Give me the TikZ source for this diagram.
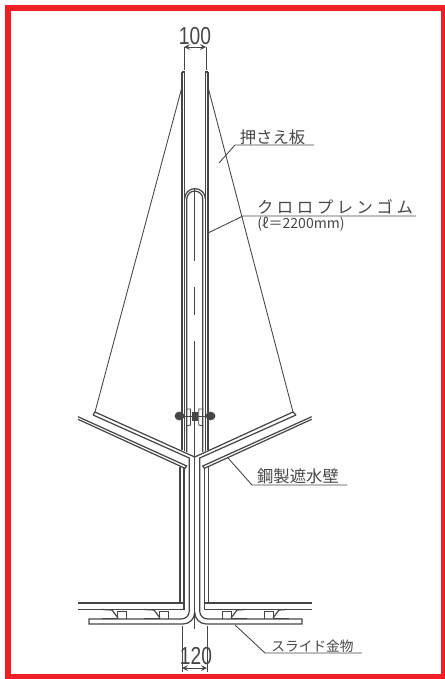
\documentclass[tikz,border=0pt]{standalone}
\usepackage{fontspec}
\usetikzlibrary{arrows}
\newfontfamily\jpfont{Noto Sans CJK JP}
\newfontfamily\jpwide[LetterSpace=22]{Noto Sans CJK JP}
\newfontfamily\numfont{Liberation Sans}
\definecolor{frame_red}{RGB}{238,32,38}
\definecolor{line_gray}{RGB}{70,70,70}
\begin{document}
\begin{tikzpicture}[x=0.02cm,y=-0.02cm,
	plate_line/.style={draw=line_gray,line width=0.7pt},
	thin_line/.style={draw=line_gray,line width=0.5pt},
	dim_text/.style={text=line_gray,inner sep=0pt,font=\numfont\fontsize{14}{14}\selectfont,xscale=0.78},
	label_text/.style={text=line_gray,inner sep=0pt,font=\jpfont\fontsize{9.3}{9.3}\selectfont}]

	\useasboundingbox (0,0) rectangle (445,679);
	\draw[frame_red,line width=0.12cm] (8,8) rectangle (444,677);

	\coordinate (tip_l) at (182,87);
	\coordinate (tip_r) at (208,87);
	\coordinate (base_l) at (95,412);
	\coordinate (base_r) at (293,412);
	\coordinate (end_l) at (93,415);
	\coordinate (end_r) at (296,415);
	\coordinate (crotch) at (194.7,457);

	\draw[plate_line] (182,72) -- (182,450);
	\draw[plate_line] (184.6,72) -- (184.6,451);
	\draw[plate_line] (182,72) -- (184.6,72);
	\draw[plate_line] (205.4,72) -- (205.4,451);
	\draw[plate_line] (208,72) -- (208,450);
	\draw[plate_line] (205.4,72) -- (208,72);

	\draw[thin_line] (tip_l) -- (base_l);
	\draw[thin_line] (tip_r) -- (base_r);

	\draw[plate_line] (184.6,199) arc (180:360:10.4);
	\draw[plate_line] (186.8,452) -- (186.8,199) arc (180:360:8) -- (202.8,452);

	\draw[plate_line] (194.7,188) -- (194.7,261);
	\draw[plate_line] (194.7,287) -- (194.7,315);
	\draw[plate_line] (194.7,341) -- (crotch) -- (194.7,629);

	\draw[plate_line] (end_l) -- (base_l) -- (crotch) -- (base_r) -- (end_r);

	\draw[plate_line] (end_l) -- (189.3,458) -- (189.3,611) .. controls (189.3,615.5) and (185.8,619) .. (181.3,619) -- (89,619) -- (89,624) -- (183,624) .. controls (189.5,624) and (194.7,618.8) .. (194.7,612.3);
	\draw[plate_line] (end_r) -- (199.7,458) -- (199.7,611) .. controls (199.7,615.5) and (203.2,619) .. (207.7,619) -- (302,619) -- (302,624) -- (206.4,624) .. controls (199.9,624) and (194.7,618.8) .. (194.7,612.3);

	\draw[plate_line] (78,416.7) -- (186.7,466) -- (185,468.3) -- (78,419.3);
	\draw[plate_line] (311.7,416.7) -- (202.7,466) -- (204.4,468.3) -- (311.7,419.3);

	\draw[plate_line] (180,466.5) -- (180,603) -- (78,603);
	\draw[plate_line] (184,468) -- (184,609.3) -- (78,609.3);
	\draw[plate_line] (184,603) -- (180,603);
	\draw[plate_line] (204.3,468) -- (204.3,609.3) -- (312,609.3);
	\draw[plate_line] (208.3,466.5) -- (208.3,603) -- (312,603);
	\draw[plate_line] (204.3,603) -- (208.3,603);

	\draw[thin_line] (117,619) -- (117,611) -- (126,611) -- (126,619);
	\draw[plate_line] (102,609.5) -- (112,610) -- (118,618);
	\draw[plate_line,line width=1pt] (102,618.5) -- (118,618.5);
	\draw[thin_line] (159,619) -- (159,611) -- (168,611) -- (168,619);
	\draw[plate_line] (144,609.5) -- (154,610) -- (160,618);
	\draw[plate_line,line width=1pt] (144,618.5) -- (160,618.5);
	\draw[thin_line] (222,619) -- (222,611) -- (231,611) -- (231,619);
	\draw[plate_line] (245,609.5) -- (237,610) -- (231,618);
	\draw[plate_line,line width=1pt] (247,618.5) -- (231,618.5);
	\draw[thin_line] (264,619) -- (264,611) -- (273,611) -- (273,619);
	\draw[plate_line] (287,609.5) -- (279,610) -- (273,618);
	\draw[plate_line,line width=1pt] (289,618.5) -- (273,618.5);

	\draw[thin_line] (175,416) -- (215,416);
	\draw[line_gray,fill=line_gray] (179.5,416) ellipse (4.5 and 4);
	\draw[line_gray,fill=line_gray] (210.5,416) ellipse (4.5 and 4);
	\draw[line_gray,fill=line_gray] (192,412) rectangle (197.5,420);
	\draw[thin_line] (186,409) -- (190.5,409) -- (190.5,425) -- (186,426);
	\draw[thin_line] (203.3,409) -- (198.8,409) -- (198.8,425) -- (203.3,426);

	\coordinate (top_dim_l) at (184,47);
	\coordinate (top_dim_r) at (206,47);
	\coordinate (top_ext_l) at (184,70);
	\coordinate (top_ext_r) at (206,70);
	\draw[thin_line] (top_dim_l) -- (top_ext_l);
	\draw[thin_line] (top_dim_r) -- (top_ext_r);
	\draw[thin_line,<->,>=stealth] (top_dim_l) -- (top_dim_r);
	\node[dim_text] (top_dim) at (195,36) {100};

	\coordinate (bot_dim_l) at (182,668);
	\coordinate (bot_dim_r) at (207,668);
	\coordinate (bot_ext_l) at (182,626);
	\coordinate (bot_ext_r) at (207,626);
	\draw[thin_line] (bot_ext_l) -- (182,672);
	\draw[thin_line] (bot_ext_r) -- (207,672);
	\draw[thin_line,<->,>=stealth] (bot_dim_l) -- (bot_dim_r);
	\node[dim_text] (bot_dim) at (196,656) {120};

	\node[label_text] (press_plate) at (272.5,137) {押さえ板};
	\coordinate (press_a) at (219,163);
	\coordinate (press_b) at (235,145);
	\coordinate (press_c) at (314,145);
	\draw[thin_line] (press_a) -- (press_b) -- (press_c);

	\node[label_text] (rubber) at (335,207) {\jpwide クロロプレンゴム};
	\node[label_text,font=\jpfont\fontsize{8}{8}\selectfont] (rubber_len) at (301,224) {(ℓ＝2200mm)};
	\coordinate (rubber_a) at (208,233);
	\coordinate (rubber_b) at (243,216);
	\coordinate (rubber_c) at (416,216);
	\draw[thin_line] (rubber_a) -- (rubber_b) -- (rubber_c);

	\node[label_text] (steel_wall) at (298,476) {鋼製遮水壁};
	\coordinate (steel_a) at (228,458);
	\coordinate (steel_b) at (252,485);
	\coordinate (steel_c) at (347,485);
	\draw[thin_line] (steel_a) -- (steel_b) -- (steel_c);

	\node[label_text,font=\jpfont\fontsize{7.8}{7.8}\selectfont] (slide_metal) at (312.5,646) {スライド金物};
	\coordinate (slide_a) at (235,625);
	\coordinate (slide_b) at (265,653);
	\coordinate (slide_c) at (362,653);
	\draw[thin_line] (slide_a) -- (slide_b) -- (slide_c);
\end{tikzpicture}
\end{document}
